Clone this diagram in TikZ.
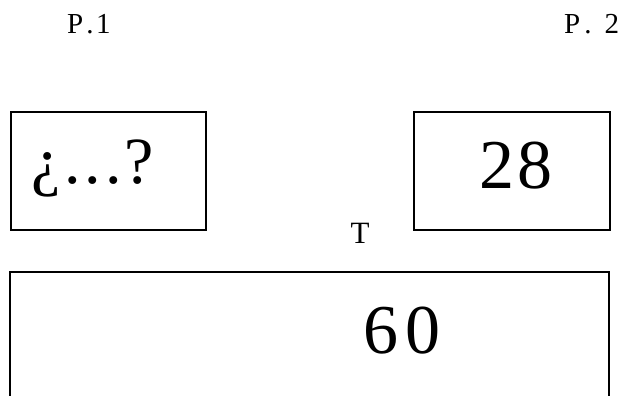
\documentclass[tikz,border=0pt]{standalone}
\usepackage{fontspec}
\setmainfont{Liberation Serif}
\begin{document}
\begin{tikzpicture}[x=1pt,y=-1pt,
  boxstyle/.style={draw=black,line width=2pt,inner sep=0pt},
  small/.style={font=\fontsize{29}{32}\selectfont,inner sep=0pt},
  big/.style={font=\fontsize{70}{80}\selectfont,inner sep=0pt}]
\useasboundingbox (0,0) rectangle (627,396);
% boxes
\node[boxstyle,minimum width=195pt,minimum height=118pt,anchor=north west] (b1) at (10,111) {};
\node[boxstyle,minimum width=196pt,minimum height=118pt,anchor=north west] (b2) at (413,111) {};
\coordinate (bl) at (10,396);
\coordinate (tl) at (10,272);
\coordinate (tr) at (609,272);
\coordinate (br) at (609,396);
\draw[line width=2pt] (bl) -- (tl) -- (tr) -- (br);
% labels
\node[small,anchor=base west] (p1) at (67,34) {P\kern3pt.\kern2.5pt 1};
\node[small,anchor=base west] (p2) at (564,34) {P\kern4pt.\kern13pt 2};
\node[small,anchor=base,font=\fontsize{31}{34}\selectfont] (t) at (360,243) {T};
\node[big,anchor=base west,font=\fontsize{66}{76}\selectfont] (q) at (31,183) {¿\kern4pt.\kern4pt.\kern4pt.\kern3pt?};
\node[big,anchor=base west] (n28) at (479,188) {2\kern3pt 8};
\node[big,anchor=base west] (n60) at (363,353) {6\kern7pt 0};
\end{tikzpicture}
\end{document}
